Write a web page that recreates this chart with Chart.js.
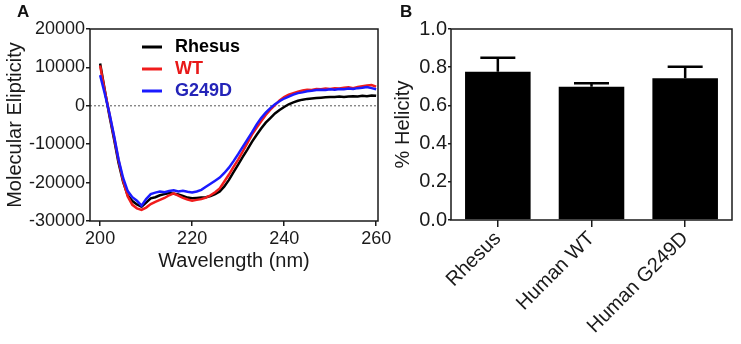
<!DOCTYPE html>
<html>
<head>
<meta charset="utf-8">
<script src="https://cdn.jsdelivr.net/npm/chart.js@4/dist/chart.umd.min.js"></script>
<style>
  body { margin: 0; background: #fff; }
  #wrap { position: relative; width: 741px; height: 344px; font-family: "Liberation Sans", Arial, sans-serif; }
  .tag { position: absolute; font-weight: bold; font-size: 17px; color: #111; }
  .panel { position: absolute; top: 0; height: 344px; }
</style>
</head>
<body>
<div id="wrap">
  <div class="panel" style="left:0;width:400px"><canvas id="cd"></canvas></div>
  <div class="panel" style="left:380px;width:361px"><canvas id="hel"></canvas></div>
  <div class="tag" style="left:17px;top:2px">A</div>
  <div class="tag" style="left:400px;top:2px">B</div>
</div>
<script>
// panel A: CD spectra
var wavelength = [200, 201, 202, 203, 204, 205, 206, 207, 208, 209, 210, 211, 212, 213, 214, 215,
  216, 217, 218, 219, 220, 221, 222, 223, 224, 225, 226, 227, 228, 229, 230, 231, 232, 233, 234,
  235, 236, 237, 238, 239, 240, 241, 242, 243, 244, 245, 246, 247, 248, 249, 250, 251, 252, 253,
  254, 255, 256, 257, 258, 259, 260];
var rhesus = [11000, 4200, -2500, -8500, -14800, -19800, -23300, -24800, -25700, -26300, -25200,
  -24100, -23800, -23300, -23000, -22700, -22900, -23100, -23500, -23900, -24100, -24000, -23900,
  -23800, -23500, -23000, -22300, -21000, -19300, -17300, -15300, -13300, -11400, -9400, -7600,
  -5900, -4400, -3200, -2000, -1100, -300, 400, 900, 1300, 1600, 1800, 1900, 2000, 2100, 2200,
  2300, 2300, 2400, 2300, 2400, 2500, 2400, 2600, 2500, 2700, 2600];
var wt = [10500, 4000, -2000, -8000, -14200, -19500, -23600, -25800, -26700, -27100, -26500,
  -25600, -25000, -24500, -24000, -23300, -22800, -23400, -24000, -24400, -24700, -24500, -24300,
  -23900, -23300, -22500, -21500, -19700, -17900, -15900, -14000, -11900, -9700, -7500, -5700,
  -4000, -2400, -1000, 200, 1400, 2300, 2900, 3300, 3700, 4000, 4200, 4100, 4400, 4300, 4500,
  4400, 4600, 4500, 4700, 4800, 4600, 4900, 5100, 5300, 5400, 5000];
var g249d = [8000, 3200, -1800, -7600, -13900, -18800, -22200, -23800, -24700, -26000, -24300,
  -23000, -22600, -22300, -22500, -22200, -22000, -22300, -22100, -22400, -22600, -22300, -21900,
  -21100, -20300, -19500, -18700, -17500, -16100, -14400, -12600, -10700, -8800, -6900, -4900,
  -3200, -1800, -600, 400, 1200, 1900, 2400, 2900, 3300, 3500, 3800, 3900, 4100, 4200, 4100,
  4300, 4200, 4400, 4300, 4500, 4400, 4600, 4700, 4900, 4600, 4300];
var xTicksA = [200, 220, 240, 260];
var yTicksA = [-30000, -20000, -10000, 0, 10000, 20000];

// panel B: helicity
var groups = ["Rhesus", "Human WT", "Human G249D"];
var helicity = [0.776, 0.698, 0.742];
var helicityErr = [0.074, 0.018, 0.061];
var yTicksB = [0, 0.2, 0.4, 0.6, 0.8, 1.0];

var FONT = '"Liberation Sans", Arial, sans-serif';
var INK = "#1a1a1a";

function pairs(ys) {
  return ys.map(function (y, i) { return { x: wavelength[i], y: y }; });
}

var frame = {
  id: "frame",
  afterDraw: function (chart) {
    var a = chart.chartArea, ctx = chart.ctx;
    ctx.save();
    ctx.strokeStyle = INK;
    ctx.lineWidth = 1.5;
    ctx.strokeRect(a.left, a.top, a.right - a.left, a.bottom - a.top);
    ctx.restore();
  }
};

var insideLegend = {
  id: "insideLegend",
  afterDatasetsDraw: function (chart) {
    var ctx = chart.ctx, a = chart.chartArea;
    ctx.save();
    ctx.font = "bold 18px " + FONT;
    ctx.textBaseline = "middle";
    chart.data.datasets.forEach(function (ds, i) {
      if (!ds.label) return;
      var y = a.top + 18 + i * 22;
      ctx.strokeStyle = ds.borderColor;
      ctx.lineWidth = 3;
      ctx.beginPath();
      ctx.moveTo(a.left + 52, y);
      ctx.lineTo(a.left + 72, y);
      ctx.stroke();
      ctx.fillStyle = ds.textColor;
      ctx.fillText(ds.label, a.left + 85, y);
    });
    ctx.restore();
  }
};

var errorBars = {
  id: "errorBars",
  afterDatasetsDraw: function (chart) {
    var ctx = chart.ctx, ys = chart.scales.y;
    var meta = chart.getDatasetMeta(0);
    ctx.save();
    ctx.strokeStyle = "#000";
    ctx.lineWidth = 2.5;
    meta.data.forEach(function (bar, i) {
      var top = ys.getPixelForValue(helicity[i] + helicityErr[i]);
      ctx.beginPath();
      ctx.moveTo(bar.x, bar.y);
      ctx.lineTo(bar.x, top);
      ctx.moveTo(bar.x - 17.5, top);
      ctx.lineTo(bar.x + 17.5, top);
      ctx.stroke();
    });
    ctx.restore();
  }
};

function fixedTicks(list) {
  return function (scale) {
    scale.ticks = list.map(function (v) { return { value: v }; });
  };
}

// keep the plot box where the reference has it (labels may overhang)
function fitX(h) {
  return function (s) { s.height = h; s.paddingLeft = 0; s.paddingRight = 0; };
}
function fitY(w) {
  return function (s) { s.width = w; s.paddingTop = 0; s.paddingBottom = 0; };
}

new Chart("cd", {
  type: "line",
  data: {
    datasets: [
      { label: "Rhesus", data: pairs(rhesus), borderColor: "#000", textColor: "#000", order: 3 },
      { label: "WT", data: pairs(wt), borderColor: "#f01c1c", textColor: "#e81818", order: 2 },
      { label: "G249D", data: pairs(g249d), borderColor: "#1a1aff", textColor: "#2424b8", order: 1 },
      { label: "", data: [{ x: 197.8, y: 0 }, { x: 260.4, y: 0 }], borderColor: "#555",
        borderWidth: 1, borderDash: [2, 2], order: 4 }
    ]
  },
  options: {
    animation: false,
    responsive: true,
    maintainAspectRatio: false,
    layout: { padding: { top: 29, right: 22, bottom: 70, left: 0 } },
    elements: { point: { radius: 0 }, line: { borderWidth: 2.5, tension: 0 } },
    plugins: { legend: { display: false }, tooltip: { enabled: false } },
    scales: {
      x: {
        type: "linear",
        min: 197.8,
        max: 260.4,
        afterBuildTicks: fixedTicks(xTicksA),
        afterFit: fitX(53),
        grid: { drawOnChartArea: false, tickLength: 5, color: INK, lineWidth: 1.5 },
        border: { display: false },
        ticks: { color: INK, padding: 2, font: { size: 18, family: FONT } },
        title: { display: true, text: "Wavelength (nm)", color: INK,
          font: { size: 20, family: FONT }, padding: { top: 0, bottom: 1 } }
      },
      y: {
        min: -30000,
        max: 20000,
        afterBuildTicks: fixedTicks(yTicksA),
        afterFit: fitY(90),
        grid: { drawOnChartArea: false, tickLength: 4, color: INK, lineWidth: 1.5 },
        border: { display: false },
        ticks: { color: INK, padding: 1, font: { size: 18, family: FONT },
          callback: function (v) { return String(v); } },
        title: { display: true, text: "Molecular Elipticity", color: INK,
          font: { size: 20, family: FONT }, padding: { top: 3, bottom: 0 } }
      }
    }
  },
  plugins: [frame, insideLegend]
});

new Chart("hel", {
  type: "bar",
  data: {
    labels: groups,
    datasets: [{ data: helicity, backgroundColor: "#000", barPercentage: 0.7, categoryPercentage: 1 }]
  },
  options: {
    animation: false,
    responsive: true,
    maintainAspectRatio: false,
    layout: { padding: { top: 29, right: 9, bottom: 0, left: 0 } },
    plugins: { legend: { display: false }, tooltip: { enabled: false } },
    scales: {
      x: {
        afterFit: fitX(124),
        grid: { drawOnChartArea: false, offset: false, tickLength: 7, color: INK, lineWidth: 1.5 },
        border: { display: false },
        ticks: { color: INK, minRotation: 45, maxRotation: 45, padding: 0,
          font: { size: 20, family: FONT } }
      },
      y: {
        min: 0,
        max: 1,
        afterBuildTicks: fixedTicks(yTicksB),
        afterFit: fitY(71),
        grid: { drawOnChartArea: false, tickLength: 3, color: INK, lineWidth: 1.5 },
        border: { display: false },
        ticks: { color: INK, padding: 1, font: { size: 20, family: FONT },
          callback: function (v) { return v.toFixed(1); } },
        title: { display: true, text: "% Helicity", color: INK,
          font: { size: 20, family: FONT }, padding: { top: 11, bottom: 0 } }
      }
    }
  },
  plugins: [frame, errorBars]
});
</script>
</body>
</html>
